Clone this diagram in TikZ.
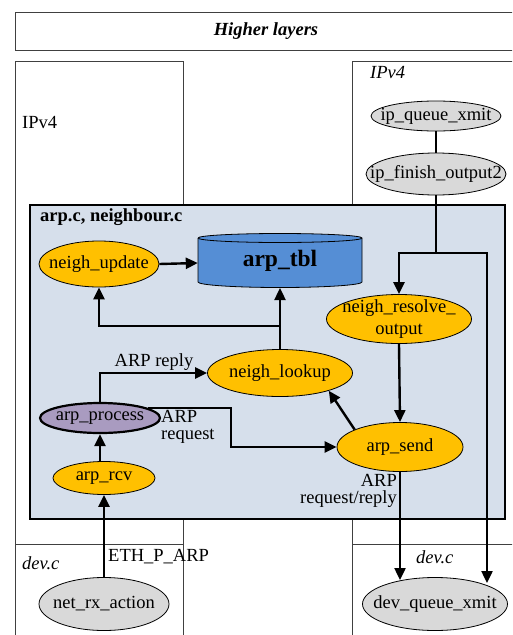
\documentclass[tikz,border=0pt]{standalone}
\usepackage{fontspec}
\setmainfont{Liberation Serif}
\usetikzlibrary{arrows.meta,shapes.geometric}
\definecolor{orng}{HTML}{FFC000}
\definecolor{bgblue}{HTML}{D6DFEB}
\definecolor{tblblue}{HTML}{558ED5}
\definecolor{purp}{HTML}{A99BC0}
\definecolor{gry}{HTML}{D9D9D9}
\definecolor{boxline}{HTML}{404040}
\tikzset{
  thinbox/.style={draw=boxline, line width=0.9pt},
  ell/.style={ellipse, draw=black, line width=0.8pt, inner sep=0pt},
  grayell/.style={ell, fill=gry},
  orell/.style={ell, fill=orng},
  conn/.style={line width=2.4pt, draw=black},
  arr/.style={conn, -{Triangle[length=12pt,width=11pt]}},
  lbl/.style={inner sep=0pt, text=black},
  txt/.style={label={[lbl, align=center]center:#1}}
}
\begin{document}
\begin{tikzpicture}[x=1pt,y=-1pt, font=\fontsize{18.5}{17}\selectfont]
\useasboundingbox (0,0) rectangle (512,635);
\begin{scope}
\clip (0,0) rectangle (512,635);
% outer layer boxes
\draw[thinbox] (15,12) rectangle (520,50);
\node[lbl] (hl) at (266,31) {\bfseries\itshape Higher layers};
\draw[thinbox] (15,640) -- (15,61) -- (183,61) -- (183,640);
\draw[thinbox] (15,544) -- (183,544);
\draw[thinbox] (352,640) -- (352,61) -- (520,61);
\draw[thinbox] (352,544) -- (520,544);
\node[lbl, anchor=west] (ipl) at (22,122) {IPv4};
\node[lbl, anchor=west] (ipr) at (370,72) {\itshape IPv4};
\node[lbl, anchor=west] (devl) at (22,563) {\itshape dev.c};
\node[lbl, anchor=west] (devr) at (416,557) {\itshape dev.c};

% main box
\draw[fill=bgblue, draw=black, line width=2.6pt] (30,205) rectangle (505,519);
\node[lbl, anchor=west] (arpc) at (40,217) {\bfseries arp.c, neighbour.c};

% cylinder arp_tbl
\fill[tblblue] (198,238) -- (198,282) arc[start angle=180, end angle=0, x radius=82, y radius=5.5]
  -- (362,238) arc[start angle=0, end angle=-180, x radius=82, y radius=4.5] -- cycle;
\draw[black, line width=0.8pt] (198,238) -- (198,282) arc[start angle=180, end angle=0, x radius=82, y radius=5.5]
  -- (362,238) arc[start angle=0, end angle=-180, x radius=82, y radius=4.5];
\draw[black, line width=0.8pt] (198,238) arc[start angle=180, end angle=0, x radius=82, y radius=4.5];
\node[inner sep=0pt, minimum width=164pt, minimum height=50pt] (tbl) at (280,263) {};
\node[lbl] (tbltext) at (280,261) {\fontsize{23.5}{23}\selectfont\bfseries arp\_tbl};
\coordinate (tblb) at (280,288);

% nodes
\node[grayell, minimum width=130pt, minimum height=30pt, txt={ip\_queue\_xmit}] (iqx) at (436,116) {};
\node[grayell, minimum width=140pt, minimum height=42pt, txt={ip\_finish\_output2}] (ifo) at (436,174) {};
\node[orell, minimum width=120pt, minimum height=46pt, txt={neigh\_update}] (nu) at (99,264) {};
\node[orell, minimum width=145pt, minimum height=49pt,
  label={[lbl, align=center, font=\fontsize{18.5}{22}\selectfont]center:{neigh\_resolve\_\\output}}] (nro) at (399,319) {};
\node[orell, minimum width=145pt, minimum height=47pt, txt={neigh\_lookup}] (nl) at (280,373) {};
\node[ell, fill=purp, line width=2.2pt, minimum width=120pt, minimum height=30pt, txt={arp\_process}] (ap) at (100,418) {};
\node[orell, minimum width=102pt, minimum height=33pt, txt={arp\_rcv}] (ar) at (104,478) {};
\node[orell, minimum width=126pt, minimum height=49pt, txt={arp\_send}] (as) at (400,447) {};
\node[grayell, minimum width=130pt, minimum height=53pt, txt={net\_rx\_action}] (nra) at (104,604) {};
\node[grayell, minimum width=145pt, minimum height=53pt, txt={dev\_queue\_xmit}] (dqx) at (435,604) {};

% coordinates
\coordinate (split) at (436,253);
\coordinate (dqa) at (400,580);
\coordinate (dqb) at (487,583);
\coordinate (br) at (280,326);
\coordinate (k2) at (231,447);

% connectors
\draw[conn] (iqx.south) -- (ifo.north);
\draw[conn] (ifo.south) -- (split);
\draw[arr] (split) -| (nro.north);
\draw[arr] (split) -| (dqb);
\draw[arr] (nro.south) -- (as.north);
\draw[arr] (as.south) -- (dqa);
\draw[arr] (as.159) -- (nl.-20);
\draw[arr] (nl.north) -- (tblb);
\draw[arr] (br) -| (nu.south);
\draw[arr] (nu.east) -- (tbl.west);
\draw[arr] (ap.north) |- (nl.west);
\draw[arr] (ap.12) -| (k2) -- (as.west);
\draw[arr] (ar.north -| ap.south) -- (ap.south);
\draw[arr] (nra.north) -- (ar.south);

% labels
\node[lbl] (lreply) at (154,362) {ARP reply};
\node[lbl, anchor=north west, align=left] (lreq) at (161,410) {ARP\\request};
\node[lbl, anchor=west] (leth) at (108,557) {ETH\_P\_ARP};
\node[lbl, anchor=north east, align=right] (lrr) at (397,474) {ARP\\request/reply};
\end{scope}
\end{tikzpicture}
\end{document}
